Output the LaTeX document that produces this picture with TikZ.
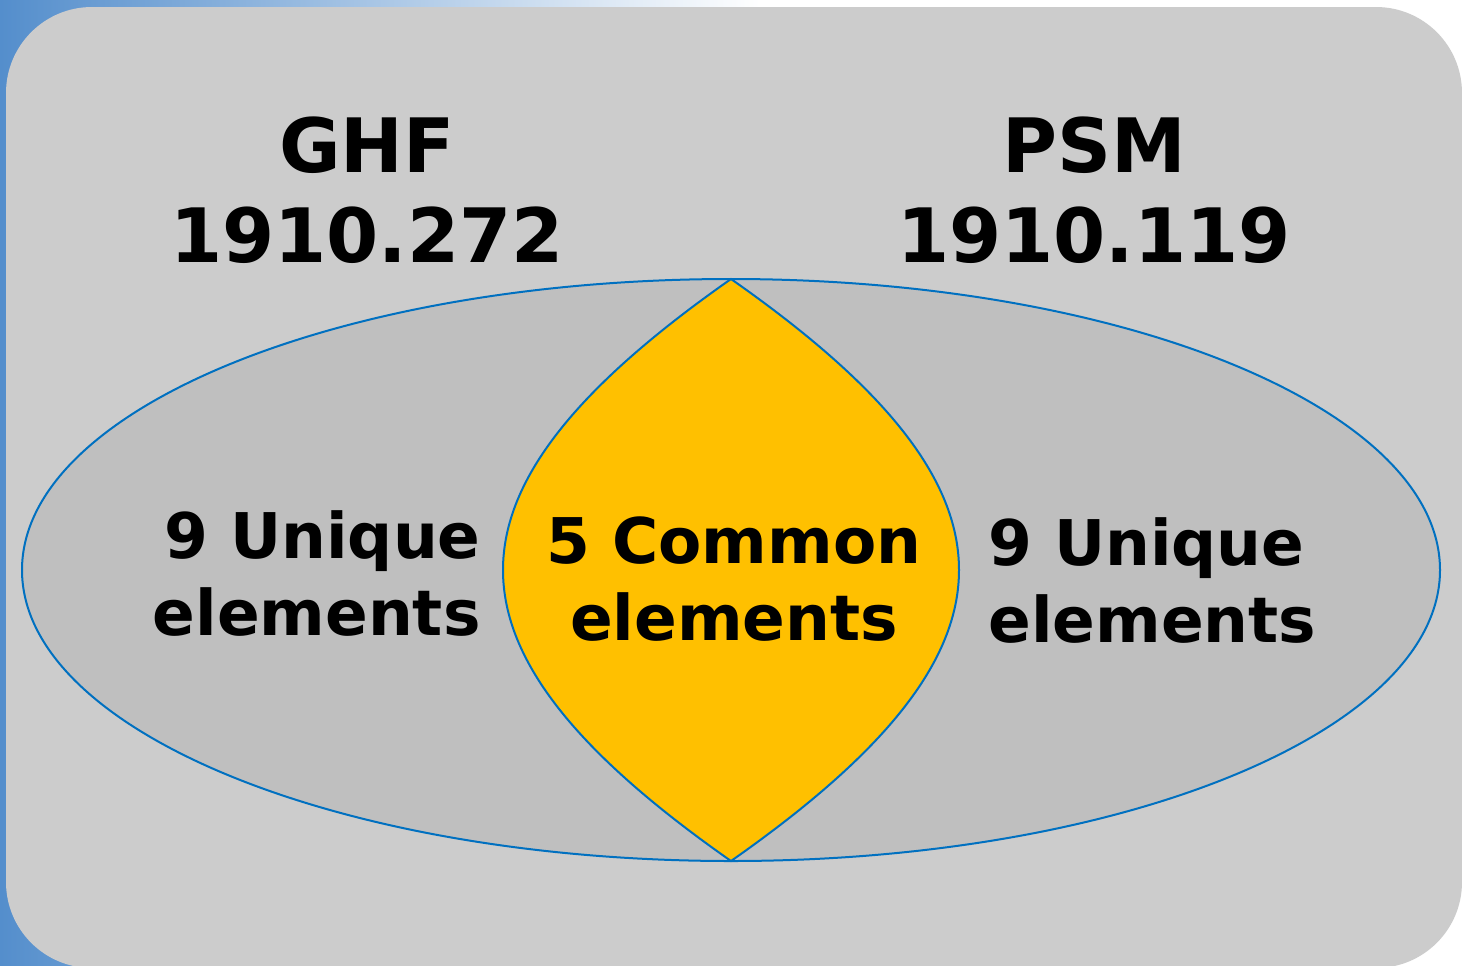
\documentclass[tikz,border=0pt]{standalone}
\usepackage{fontspec}
\setmainfont{DejaVu Sans}
\usepackage{tikz}
\usetikzlibrary{calc,positioning}

\definecolor{edgeblue}{RGB}{0,112,192}
\definecolor{lensgold}{RGB}{255,192,0}
\definecolor{panelgray}{RGB}{204,204,204}
\definecolor{ovalgray}{RGB}{191,191,191}
\definecolor{bandblue}{RGB}{84,142,204}

\begin{document}
\begin{tikzpicture}[x=0.5pt, y=-0.5pt,
  title text/.style = {inner sep=0pt, align=center, anchor=base, font=\bfseries\fontsize{37.5}{45}\selectfont},
  count text/.style = {inner sep=0pt, font=\bfseries\fontsize{31.5}{38.5}\selectfont}]
\useasboundingbox (0,0) rectangle (1462,965);
\fill[white] (0,0) rectangle (1462,965);
\shade[left color=bandblue, right color=white] (0,0) rectangle (760,965);
\fill[panelgray, rounded corners=43pt] (6,7) rectangle (1462,968);

% outer oval and the shared part
\coordinate (top) at (731,279);
\coordinate (bot) at (731,861);
\filldraw[fill=ovalgray, draw=edgeblue, line width=1pt] (731,570) ellipse [x radius=709, y radius=291];
\filldraw[fill=lensgold, draw=edgeblue, line width=1pt]
  (top) .. controls (427,492) and (427,648) .. (bot)
        .. controls (1035,648) and (1035,492) .. (top) -- cycle;

% base anchor sits on the last line
\node[title text] (ghf) at (367,262) {GHF\\1910.272};
\node[title text] (psm) at (1094,262) {PSM\\1910.119};
\node[count text, align=right, anchor=base east] (uniqueL) at (481,635) {9 Unique\\elements};
\node[count text, align=center, anchor=base] (common) at (734,640) {5 Common\\elements};
\node[count text, align=left, anchor=base west] (uniqueR) at (988,642) {9 Unique\\elements};
\end{tikzpicture}
\end{document}
